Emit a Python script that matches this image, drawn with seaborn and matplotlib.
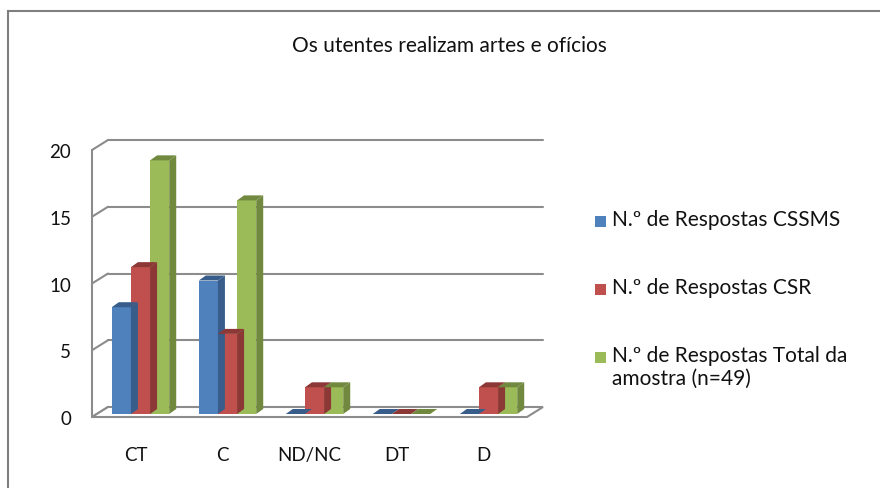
import numpy as np
import pandas as pd
import matplotlib
matplotlib.use("Agg")
import matplotlib.pyplot as plt
from matplotlib.patches import Polygon, Rectangle
from matplotlib.transforms import offset_copy
import seaborn as sns

# data
categories = ["CT", "C", "ND/NC", "DT", "D"]
series = ["N.º de Respostas CSSMS", "N.º de Respostas CSR",
          "N.º de Respostas Total da\namostra (n=49)"]
cssms = [8, 10, 0, 0, 0]
csr = [11, 6, 2, 0, 2]
total = [19, 16, 2, 0, 2]
yticks = [0, 5, 10, 15, 20]
title = "Os utentes realizam artes e ofícios"

colors = ["#4F81BD", "#C0504D", "#9BBB59"]
dark = ["#385D8A", "#8C3836", "#71893F"]

df = pd.DataFrame({
    "cat": categories * 3,
    "serie": [series[0]] * 5 + [series[1]] * 5 + [series[2]] * 5,
    "val": cssms + csr + total,
})

sns.set_style("white")
plt.rcParams["font.family"] = ["Lato", "DejaVu Sans"]

fig = plt.figure(figsize=(8.8, 4.89), dpi=100)
W, H = 880, 489
ax = fig.add_axes([92 / W, 1 - 418 / H, (527 - 92) / W, (418 - 151) / H])

sns.barplot(data=df, x="cat", y="val", hue="serie", order=categories,
            hue_order=series, palette=colors, width=0.66, saturation=1,
            edgecolor="none", linewidth=0, legend=False, ax=ax)

ax.set_xlim(-0.5, 4.5)
ax.set_ylim(0, 20)
ax.set_yticks(yticks)
ax.set_xlabel("")
ax.set_ylabel("")
for s in ax.spines.values():
    s.set_visible(False)
ax.tick_params(axis="y", length=0, pad=15, labelsize=13.5, labelcolor="#111111")
ax.tick_params(axis="x", length=0, pad=21, labelsize=13.5, labelcolor="#111111")

# fake 3D: wall depth offset (px) and bar depth offset
gray = "#8C8C8C"
back = offset_copy(ax.transData, fig=fig, x=16, y=10, units="dots")
mid = offset_copy(ax.transData, fig=fig, x=5, y=3, units="dots")
px_x = 5 / (527 - 92)
px_y = 20 / (418 - 151)

# floor
floor = Polygon([(-0.5, 0), (4.5, 0), (4.5 + 16 * px_x, 10 * px_y),
                 (-0.5 + 16 * px_x, 10 * px_y)], closed=True, fc="white",
                ec=gray, lw=1.5, zorder=0.5, clip_on=False)
ax.add_patch(floor)
# back gridlines and left wall
for t in yticks[1:]:
    ax.plot([-0.5, 4.5], [t, t], color=gray, lw=1.5, transform=back,
            clip_on=False, zorder=0.4)
for t in yticks:
    ax.plot([-0.5, -0.5 + 16 * px_x], [t, t + 10 * px_y], color=gray, lw=1.5,
            clip_on=False, zorder=0.4)
ax.plot([-0.5, -0.5], [0, 20], color=gray, lw=1.5, clip_on=False, zorder=0.4)

# bar tops and sides
bdx, bdy = 7 * px_x, 5 * px_y
for i, cont in enumerate(ax.containers):
    for p in cont.patches:
        x0 = p.get_x()
        x1 = x0 + p.get_width()
        h = p.get_height()
        top = Polygon([(x0, h), (x1, h), (x1 + bdx, h + bdy), (x0 + bdx, h + bdy)],
                      closed=True, fc=dark[i], ec="none", zorder=3, clip_on=False,
                      transform=mid)
        side = Polygon([(x1, 0), (x1 + bdx, bdy), (x1 + bdx, h + bdy), (x1, h)],
                       closed=True, fc=dark[i], ec="none", zorder=3, clip_on=False,
                       transform=mid)
        ax.add_patch(top)
        ax.add_patch(side)
        p.set_transform(mid)
        p.set_clip_on(False)
        p.set_zorder(2.5)

# title
fig.text(449 / W, 1 - 46 / H, title, ha="center", va="center", fontsize=15,
         color="#111111")

# legend drawn by hand
leg_y = [222, 290, 358]
for i, lab in enumerate(series):
    fig.patches.append(Rectangle((595 / W, 1 - (leg_y[i] + 6) / H), 11 / W, 11 / H,
                                 transform=fig.transFigure, fc=colors[i], ec="none"))
    fig.text(612 / W, 1 - (leg_y[i] - 12) / H, lab, ha="left", va="top",
             fontsize=15, linespacing=1.15, color="#111111")

# chart border
fig.patches.append(Rectangle((8 / W, -0.1), 1.2, 1.1 - 12 / H,
                             transform=fig.transFigure, fill=False, ec="#7F7F7F", lw=1.5))

fig.savefig("out.png", dpi=100)
